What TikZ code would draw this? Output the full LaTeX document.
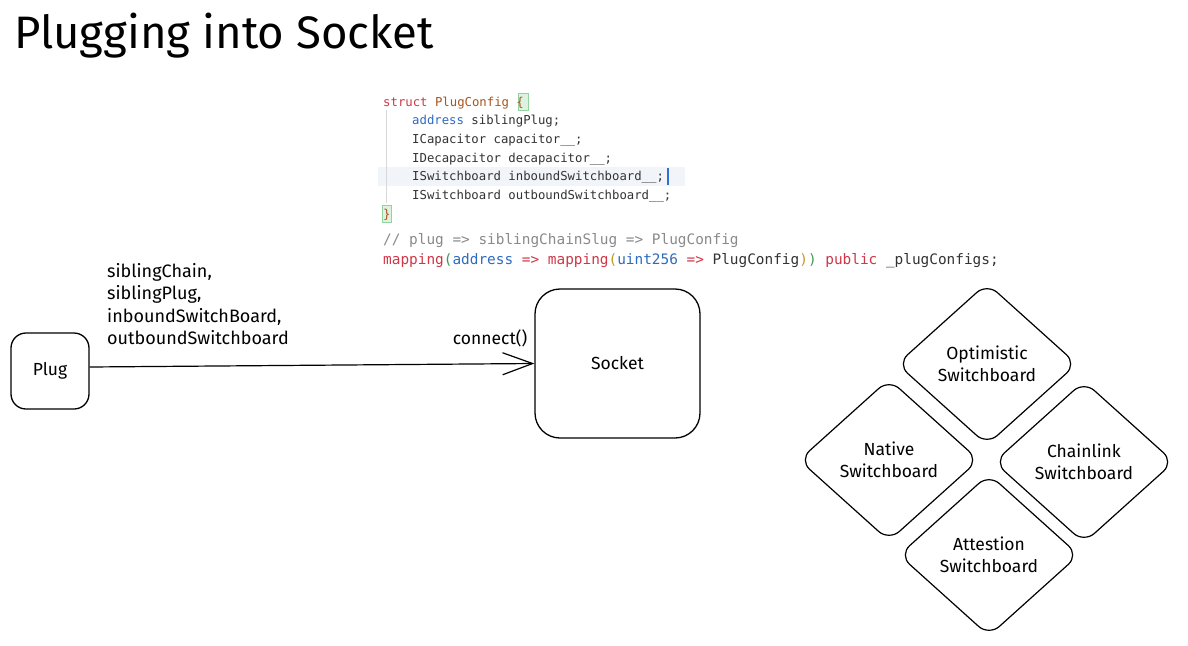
\documentclass[tikz,border=0pt]{standalone}
\usepackage{fontspec}
\setmainfont{Fira Sans}
\newfontfamily\codefont{DejaVu Sans Mono}
\usetikzlibrary{shapes.geometric,arrows.meta}
\definecolor{ckw}{HTML}{CF3747}
\definecolor{ctype}{HTML}{A8541C}
\definecolor{cblue}{HTML}{2E6AC2}
\definecolor{ctext}{HTML}{333333}
\definecolor{ccom}{HTML}{8A8A8A}
\definecolor{cgreen}{HTML}{3F9A57}
\definecolor{cyel}{HTML}{C49A22}
\definecolor{chl}{HTML}{F1F4F8}
\definecolor{cbrf}{HTML}{DDF3E0}
\definecolor{cbrd}{HTML}{93D3A2}
\definecolor{cguide}{HTML}{D8D8D8}
\definecolor{ccursor}{HTML}{2F6FD6}
\tikzset{
  hand/.style={font=\fontsize{17.5}{22.5}\selectfont},
  box/.style={draw, line width=1.3pt, hand},
  sw/.style={draw, line width=1.2pt, diamond, minimum width=180pt, minimum height=162pt,
             rounded corners=14pt, inner sep=0pt, align=center, hand},
  codes/.style={anchor=base west, inner sep=0pt, font=\codefont\fontsize{12.3}{14}\selectfont, text=ctext},
  codel/.style={anchor=base west, inner sep=0pt, font=\codefont\fontsize{14.4}{16}\selectfont, text=ctext},
}
\begin{document}
\begin{tikzpicture}[x=1pt,y=-1pt]
\useasboundingbox[fill=white] (0,0) rectangle (1188,645);

% title
\node[anchor=base west, inner sep=0pt, font=\fontsize{45.5}{50}\selectfont] (title) at (14,48) {Plugging into Socket};

% code decorations
\fill[chl] (378,167) rectangle (685,186);
\draw[ccursor, line width=1.2pt] (668,168) -- (668,185);
\draw[cguide, line width=0.8pt] (386,110) -- (386,203);
\filldraw[fill=cbrf, draw=cbrd, line width=0.6pt] (518,93) rectangle (528,110);
\filldraw[fill=cbrf, draw=cbrd, line width=0.6pt] (382,205) rectangle (391,222);

% code text
\node[codes] (c1) at (383,106) {\textcolor{ckw}{struct} \textcolor{ctype}{PlugConfig} \textcolor{ctype}{\{}};
\node[codes] (c2) at (412,124.7) {\textcolor{cblue}{address} siblingPlug;};
\node[codes] (c3) at (412,143.4) {ICapacitor capacitor\_\_;};
\node[codes] (c4) at (412,162.1) {IDecapacitor decapacitor\_\_;};
\node[codes] (c5) at (412,180.8) {ISwitchboard inboundSwitchboard\_\_;};
\node[codes] (c6) at (412,199.5) {ISwitchboard outboundSwitchboard\_\_;};
\node[codes] (c7) at (383,218.2) {\textcolor{ctype}{\}}};
\node[codel, text=ccom] (c8) at (383,244) {// plug => siblingChainSlug => PlugConfig};
\node[codel] (c9) at (383,264) {\textcolor{ckw}{mapping}\textcolor{cgreen}{(}\textcolor{cblue}{address} \textcolor{ckw}{=>} \textcolor{ckw}{mapping}\textcolor{cyel}{(}\textcolor{cblue}{uint256} \textcolor{ckw}{=>} PlugConfig\textcolor{cyel}{)}\textcolor{cgreen}{)} \textcolor{ckw}{public} \_plugConfigs;};

% plug and socket
\node[box, rounded corners=15pt, minimum width=78pt, minimum height=76pt] (plug) at (50,371) {Plug};
\node[box, rounded corners=25pt, minimum width=165pt, minimum height=149pt] (socket) at (617.5,363.5) {Socket};
\draw[line width=1.2pt, -{Straight Barb[length=30pt,width=22pt,line width=1.2pt]}] ([yshift=4pt]plug.east) -- (socket.west);
\node[hand, anchor=center, inner sep=0pt] (conn) at (490,338) {connect()};
\node[hand, font=\fontsize{18}{22.5}\selectfont, anchor=north west, align=left, inner sep=0pt] (params) at (107,263)
  {siblingChain,\\siblingPlug,\\inboundSwitchBoard,\\outboundSwitchboard};

% switchboards
\node[sw] (opt) at (987,364) {Optimistic\\Switchboard};
\node[sw] (nat) at (889,460) {Native\\Switchboard};
\node[sw] (chl) at (1084,462) {Chainlink\\Switchboard};
\node[sw] (att) at (989,555) {Attestion\\Switchboard};
\end{tikzpicture}
\end{document}
